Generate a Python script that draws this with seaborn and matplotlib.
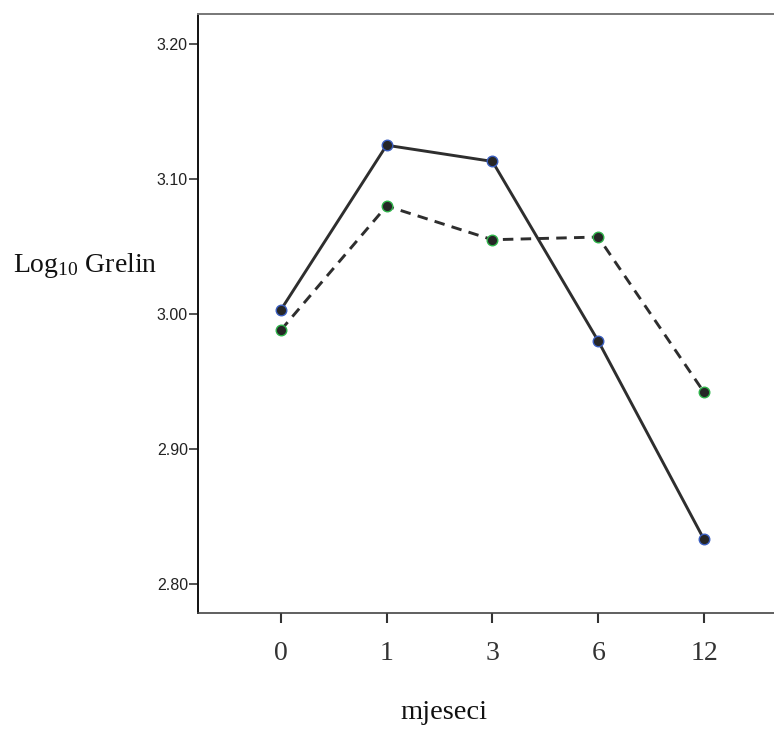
import pandas as pd
import matplotlib
matplotlib.use("Agg")
import matplotlib.pyplot as plt
import seaborn as sns

# === DATA ===
months = ["0", "1", "3", "6", "12"]
grelin_solid = [3.003, 3.125, 3.113, 2.980, 2.833]
grelin_dashed = [2.988, 3.080, 3.055, 3.057, 2.942]
y_ticks = [2.80, 2.90, 3.00, 3.10, 3.20]

sns.set_theme(style="white")
plt.rcParams["mathtext.fontset"] = "custom"
plt.rcParams["mathtext.rm"] = "Liberation Serif"

fig = plt.figure(figsize=(7.74, 7.33), dpi=100)
ax = fig.add_axes([0.2562, 0.1633, 0.760, 0.8176])

line_col = "#2e2e2e"
series = [
    (grelin_solid, "-", "#3a5ec0"),
    (grelin_dashed, "--", "#2fb34a"),
]
for vals, ls, edge in series:
    df = pd.DataFrame({"mjeseci": months, "grelin": vals})
    sns.lineplot(data=df, x="mjeseci", y="grelin", ax=ax, color=line_col,
                 linewidth=2.1, marker="o", markersize=7.6,
                 markerfacecolor="#262626", markeredgecolor=edge,
                 markeredgewidth=1.0, sort=False)
    ln = ax.lines[-1]
    if ls == "--":
        ln.set_dashes([3.6, 2.5])

ax.set_xlim(-0.78, 4.78)
ax.set_ylim(2.7783, 3.2222)
ax.set_yticks(y_ticks)
ax.set_yticklabels([f"{v:.2f}" for v in y_ticks], fontfamily="Liberation Sans",
                   fontsize=11.5, color="#333333")
ax.set_xticks(range(len(months)))
ax.set_xticklabels(months, fontfamily="Liberation Serif", fontsize=20,
                   color="#111111")

ax.tick_params(axis="y", direction="out", length=6.5, width=1.1, pad=1,
               colors="#222222", left=True)
ax.tick_params(axis="x", direction="out", length=7, width=1.5, pad=13,
               colors="#333333", bottom=True)

ax.spines["right"].set_visible(False)
ax.spines["left"].set_color("#111111")
ax.spines["left"].set_linewidth(1.4)
ax.spines["bottom"].set_color("#444444")
ax.spines["bottom"].set_linewidth(1.2)
ax.spines["top"].set_color("#777777")
ax.spines["top"].set_linewidth(1.4)
ax.grid(False)

ax.set_ylabel(r"$\mathregular{Log_{10}}$ Grelin", rotation=0, ha="left",
              va="baseline", fontfamily="Liberation Serif", fontsize=20,
              color="#111111")
ax.yaxis.set_label_coords(-0.3155, 0.570)
ax.set_xlabel("mjeseci", fontfamily="Liberation Serif", fontsize=20.5,
              color="#111111", va="center")
ax.xaxis.set_label_coords(0.418, -0.1647)

fig.savefig("out.png", dpi=100)
